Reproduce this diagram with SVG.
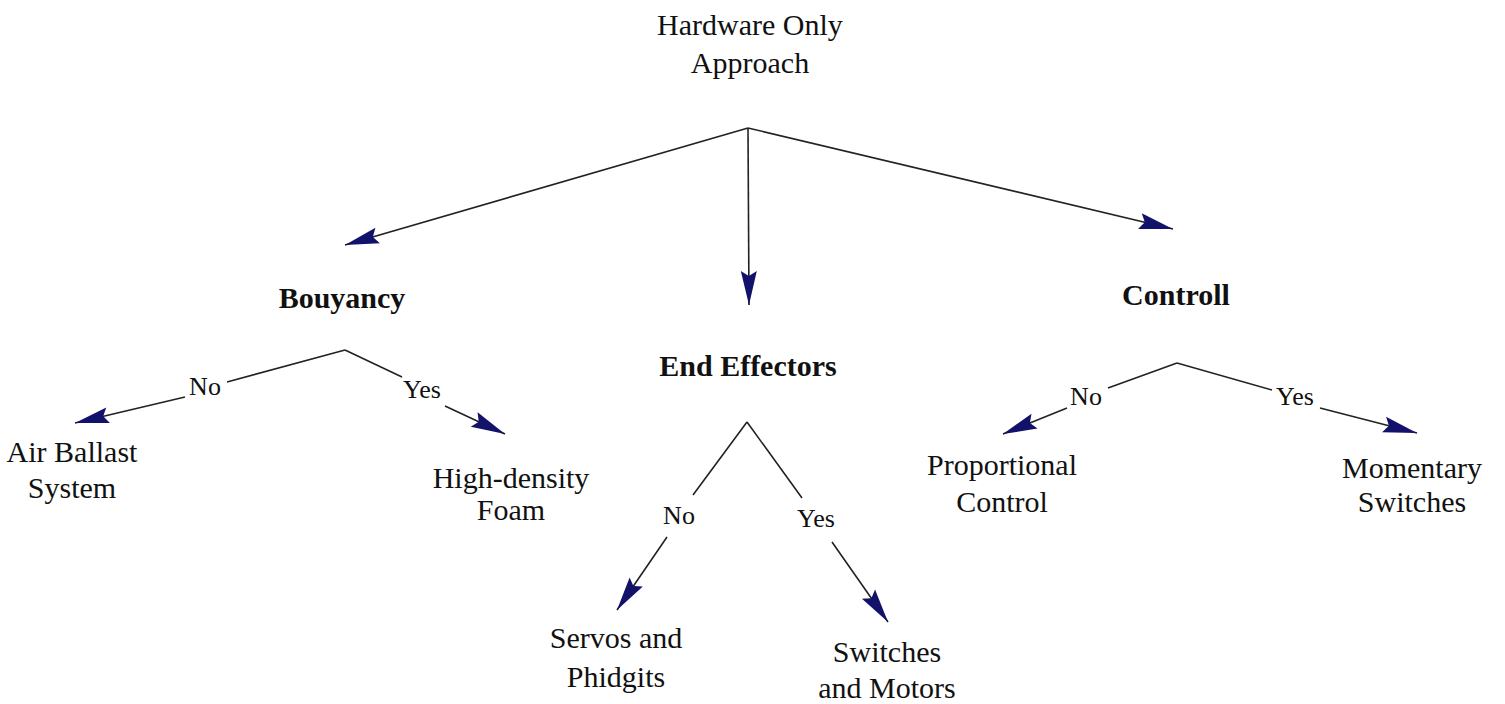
<svg xmlns="http://www.w3.org/2000/svg" width="1505" height="704" viewBox="0 0 1505 704">
<style>
text{font-family:"Liberation Serif","Times New Roman",serif;fill:#111;text-anchor:middle}
.n{font-size:30px}
.b{font-size:30px;font-weight:bold}
.l{font-size:26px}
.c{fill:none;stroke:#222;stroke-width:1.6}
</style>
<defs>
<marker id="ah" viewBox="-36 -10 38 20" refX="0" refY="0" markerWidth="38" markerHeight="20" markerUnits="userSpaceOnUse" orient="auto">
<path d="M0,0 L-34,-8 L-29,0 L-34,8 Z" fill="#12126b"/>
</marker>
</defs>
<rect width="1505" height="704" fill="#fff"/>
<g id="connectors">
<path class="c" d="M748,128 L345,245" marker-end="url(#ah)"/>
<path class="c" d="M748,128 L749,305" marker-end="url(#ah)"/>
<path class="c" d="M748,128 L1173,229" marker-end="url(#ah)"/>
<path class="c" d="M345,350 L227,382 M185,397 L75,423" marker-end="url(#ah)"/>
<path class="c" d="M345,350 L402,377 M445,406 L505,434" marker-end="url(#ah)"/>
<path class="c" d="M747,422 L693,495 M667,537 L617,610" marker-end="url(#ah)"/>
<path class="c" d="M747,422 L802,498 M832,542 L888,622" marker-end="url(#ah)"/>
<path class="c" d="M1177,363 L1108,388 M1067,408 L1003,434" marker-end="url(#ah)"/>
<path class="c" d="M1177,363 L1272,390 M1320,408 L1417,433" marker-end="url(#ah)"/>
</g>
<g id="labels">
<text class="l" x="205" y="395">No</text>
<text class="l" x="422" y="398">Yes</text>
<text class="l" x="679" y="524">No</text>
<text class="l" x="816" y="527">Yes</text>
<text class="l" x="1086" y="405">No</text>
<text class="l" x="1295" y="405">Yes</text>
</g>
<g id="root"><text class="n" x="750" y="35">Hardware Only</text><text class="n" x="750" y="73">Approach</text></g>
<g id="bouyancy"><text class="b" x="342" y="308">Bouyancy</text></g>
<g id="end-effectors"><text class="b" x="748" y="376">End Effectors</text></g>
<g id="controll"><text class="b" x="1176" y="305">Controll</text></g>
<g id="air-ballast"><text class="n" x="72" y="462">Air Ballast</text><text class="n" x="72" y="498">System</text></g>
<g id="high-density"><text class="n" x="511" y="488">High-density</text><text class="n" x="511" y="520">Foam</text></g>
<g id="servos"><text class="n" x="616" y="648">Servos and</text><text class="n" x="616" y="687">Phidgits</text></g>
<g id="switches-motors"><text class="n" x="887" y="662">Switches</text><text class="n" x="887" y="698">and Motors</text></g>
<g id="proportional"><text class="n" x="1002" y="475">Proportional</text><text class="n" x="1002" y="512">Control</text></g>
<g id="momentary"><text class="n" x="1412" y="478">Momentary</text><text class="n" x="1412" y="512">Switches</text></g>
</svg>
